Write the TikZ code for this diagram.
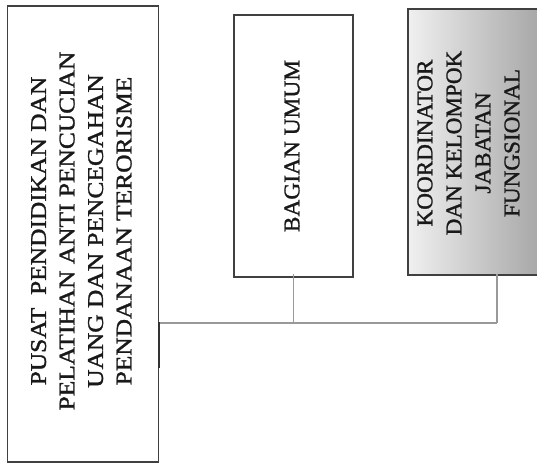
\documentclass[tikz,border=0pt]{standalone}
\usepackage{fontspec}
\setmainfont[FakeBold=1.2]{Liberation Serif}
\newfontfamily\boxfont[FakeBold=1.2]{Liberation Serif}
\begin{document}
\begin{tikzpicture}[x=1pt,y=-1pt,
  box/.style={draw=black!75,line width=1.3pt,rectangle,inner sep=0pt},
  conn/.style={draw=black!40,line width=1.4pt},
  lbl/.style={inner sep=0pt,text=black!90}]
\useasboundingbox (0,0) rectangle (537,465);
% boxes
\node[box,minimum width=151pt,minimum height=456pt] (p) at (83,234) {};
\node[box,minimum width=119pt,minimum height=262pt] (b) at (293.5,146) {};
\node[box,left color=black!6,right color=black!35,minimum width=134pt,minimum height=266pt] (k) at (475,142) {};
% texts
\node[lbl] (pt) at (83,231) {\rotatebox{90}{\scalebox{1.13}[1]{\boxfont\fontsize{22.5}{28.5}\selectfont\begin{tabular}{@{}c@{}}PUSAT \ PENDIDIKAN DAN\\PELATIHAN ANTI PENCUCIAN\\UANG DAN PENCEGAHAN\\PENDANAAN TERORISME\end{tabular}}}};
\node[lbl] (bt) at (292,146) {\rotatebox{90}{\scalebox{1.04}[1]{\boxfont\fontsize{22.5}{28}\selectfont BAGIAN UMUM}}};
\node[lbl] (kt) at (470,143) {\rotatebox{90}{\scalebox{1.03}[1]{\boxfont\fontsize{22.5}{29}\selectfont\begin{tabular}{@{}c@{}}KOORDINATOR\\DAN KELOMPOK\\JABATAN\\FUNGSIONAL\end{tabular}}}};
% connectors
\coordinate (j) at (p.east |- 0,323);
\coordinate (jb) at (b.south |- j);
\coordinate (jk) at (497,323);
\draw[conn] (j) -- (jk);
\draw[conn] ([yshift=4pt]b.south) -- (jb);
\draw[conn] ([yshift=2pt]k.south -| jk) -- (jk);
\coordinate (t1) at (p.east |- 0,322);
\coordinate (t2) at (p.east |- 0,368);
\draw[line width=2.2pt,black!80] (t1) -- (t2);
\end{tikzpicture}
\end{document}
